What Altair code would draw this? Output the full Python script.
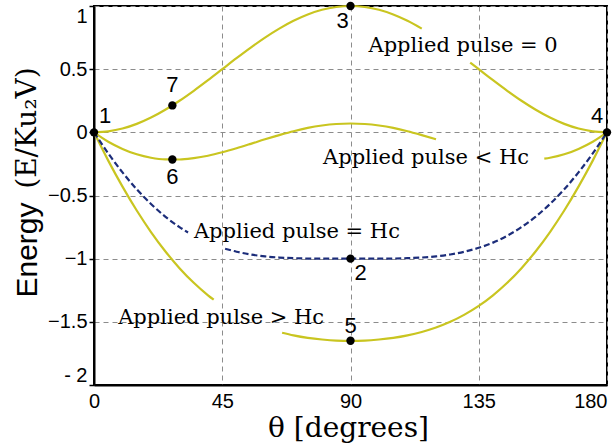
import altair as alt
import pandas as pd

# ---- curve data (theta in degrees, energy in E/Ku2V) ----
theta_p0_a = [0, 5, 10, 15, 20, 25, 30, 35, 40, 45, 50, 55, 60, 65, 70, 75, 80, 85, 90,
              95, 100, 105, 110, 115]
energy_p0_a = [0, 0.008, 0.030, 0.067, 0.117, 0.179, 0.25, 0.329, 0.413, 0.5, 0.587, 0.671,
               0.75, 0.821, 0.883, 0.933, 0.970, 0.992, 1.0, 0.992, 0.970, 0.933, 0.883, 0.821]
theta_p0_b = [132, 135, 140, 145, 150, 155, 160, 165, 170, 175, 180]
energy_p0_b = [0.552, 0.5, 0.413, 0.329, 0.25, 0.179, 0.117, 0.067, 0.030, 0.008, 0]

theta_lt_a = [0, 5, 10, 15, 20, 25, 30, 35, 40, 45, 50, 55, 60, 65, 70, 75, 80, 85, 90,
              95, 100, 105, 110, 115, 120]
energy_lt_a = [0, -0.074, -0.131, -0.174, -0.201, -0.214, -0.215, -0.204, -0.185, -0.158,
               -0.126, -0.091, -0.055, -0.022, 0.009, 0.035, 0.054, 0.066, 0.07,
               0.066, 0.054, 0.035, 0.009, -0.022, -0.055]
theta_lt_b = [158, 160, 165, 170, 175, 180]
energy_lt_b = [-0.208, -0.201, -0.174, -0.131, -0.074, 0]

theta_eq_a = [0, 5, 10, 15, 20, 25, 30, 33]
energy_eq_a = [0, -0.167, -0.317, -0.451, -0.567, -0.667, -0.75, -0.793]
theta_eq_b = [46, 50, 55, 60, 65, 70, 75, 80, 85, 90, 95, 100, 105, 110, 115, 120, 125,
              130, 135, 140, 145, 150, 155, 160, 165, 170, 175, 180]
energy_eq_b = [-0.921, -0.945, -0.967, -0.982, -0.991, -0.996, -0.999, -1.0, -1.0, -1.0,
               -1.0, -1.0, -0.999, -0.996, -0.991, -0.982, -0.967, -0.945, -0.914, -0.873,
               -0.818, -0.75, -0.667, -0.567, -0.451, -0.317, -0.167, 0]

theta_gt_a = [0, 5, 10, 15, 20, 25, 30, 35, 40, 42]
energy_gt_a = [0, -0.224, -0.430, -0.619, -0.789, -0.941, -1.075, -1.191, -1.290, -1.325]
theta_gt_b = [66, 70, 75, 80, 85, 90, 95, 100, 105, 110, 115, 120, 125, 130, 135, 140,
              145, 150, 155, 160, 165, 170, 175, 180]
energy_gt_b = [-1.586, -1.607, -1.627, -1.640, -1.648, -1.65, -1.648, -1.640, -1.627,
               -1.607, -1.580, -1.545, -1.500, -1.443, -1.374, -1.290, -1.191, -1.075,
               -0.941, -0.789, -0.619, -0.430, -0.224, 0]

# marked states
point_labels = ["1", "2", "3", "4", "5", "6", "7"]
point_theta = [0, 90, 90, 180, 90, 27.5, 27.5]
point_energy = [0, -1.0, 1.0, 0, -1.65, -0.215, 0.213]

# annotation texts and their anchor (data coordinates)
note_texts = ["Applied pulse = 0", "Applied pulse < Hc", "Applied pulse = Hc", "Applied pulse > Hc"]
note_theta = [129.5, 116.5, 71.2, 44.6]
note_energy = [0.68, -0.2, -0.79, -1.47]

x_ticks = [0, 45, 90, 135, 180]
y_ticks = [-2, -1.5, -1, -0.5, 0, 0.5, 1]
y_title_main = "Energy"
y_title_unit = "(E/Ku₂V)"

YELLOW = "#c9c520"
NAVY = "#1c2d7a"


def seg_frame(thetas, energies, name):
    return pd.DataFrame({"theta": thetas, "energy": energies, "seg": name})


solid = pd.concat([
    seg_frame(theta_p0_a, energy_p0_a, "p0a"),
    seg_frame(theta_p0_b, energy_p0_b, "p0b"),
    seg_frame(theta_lt_a, energy_lt_a, "lta"),
    seg_frame(theta_lt_b, energy_lt_b, "ltb"),
    seg_frame(theta_gt_a, energy_gt_a, "gta"),
    seg_frame(theta_gt_b, energy_gt_b, "gtb"),
])
dashed = pd.concat([
    seg_frame(theta_eq_a, energy_eq_a, "eqa"),
    seg_frame(theta_eq_b, energy_eq_b, "eqb"),
])
pts = pd.DataFrame({"theta": point_theta, "energy": point_energy, "label": point_labels})
notes = pd.DataFrame({"theta": note_theta, "energy": note_energy, "text": note_texts})

xs = alt.X("theta:Q", scale=alt.Scale(domain=[0, 180], nice=False, zero=False),
           axis=alt.Axis(values=x_ticks, title="θ [degrees]", grid=True, ticks=False,
                         labelFont="Liberation Sans", labelFontSize=20, labelColor="black",
                         labelPadding=6, labelFlush=False,
                         labelAlign={"condition": {"test": "datum.value == 180", "value": "right"},
                                     "value": "center"},
                         titleFont="DejaVu Serif", titleFontSize=28, titleFontWeight="normal",
                         titleColor="black", titleY=43, titleX=254, titleBaseline="middle"))
ys = alt.Y("energy:Q", scale=alt.Scale(domain=[-2, 1], nice=False, zero=False),
           axis=alt.Axis(values=y_ticks, title=None, grid=True,
                         tickSize=5, tickColor="black", tickWidth=1.5,
                         labelFont="Liberation Sans", labelFontSize=20, labelColor="black",
                         labelPadding=2, labelFlush=True,
                         labelExpr="datum.value == -2 ? '- 2' : format(datum.value, '~g')"))

base_solid = alt.Chart(solid).mark_line(color=YELLOW, strokeWidth=2.2, interpolate="monotone").encode(
    x=xs, y=ys, detail="seg:N")
base_dashed = alt.Chart(dashed).mark_line(color=NAVY, strokeWidth=2.2, strokeDash=[6, 3],
                                          interpolate="monotone").encode(
    x="theta:Q", y="energy:Q", detail="seg:N")
dots = alt.Chart(pts).mark_circle(color="black", size=70, opacity=1).encode(
    x="theta:Q", y="energy:Q")

offsets = {"1": (11, -16), "2": (10, 14), "3": (-8, 15), "4": (-10, -16),
           "5": (0, -15), "6": (0, 18), "7": (0, -20)}
label_layers = []
for lab, (dx, dy) in offsets.items():
    label_layers.append(
        alt.Chart(pts).transform_filter(alt.datum.label == lab)
        .mark_text(font="Liberation Sans", fontSize=22, color="black", dx=dx, dy=dy)
        .encode(x="theta:Q", y="energy:Q", text="label:N"))

note_layer = alt.Chart(notes).mark_text(font="DejaVu Serif", fontSize=21, color="black").encode(
    x="theta:Q", y="energy:Q", text="text:N")

ytitle_main = alt.Chart(pd.DataFrame({"t": [y_title_main]})).mark_text(
    font="Liberation Sans", fontSize=30, color="black", angle=270, baseline="middle").encode(
    x=alt.value(-66), y=alt.value(244), text="t:N")
ytitle_unit = alt.Chart(pd.DataFrame({"t": [y_title_unit]})).mark_text(
    font="DejaVu Serif", fontSize=28, color="black", angle=270, baseline="middle").encode(
    x=alt.value(-66), y=alt.value(122), text="t:N")

chart = alt.layer(base_solid, base_dashed, note_layer, dots, *label_layers,
                  ytitle_main, ytitle_unit).properties(
    width=513, height=379,
    autosize=alt.AutoSizeParams(type="none"),
    padding={"left": 94, "top": 6, "right": 7, "bottom": 59},
    background="white",
).configure_view(stroke="black", strokeWidth=2).configure_axis(
    gridColor="#8c8c8c", gridDash=[5, 4], gridWidth=1, domainColor="black", domainWidth=2
)

chart.save("out.html", embed_options={"renderer": "svg", "actions": False})
